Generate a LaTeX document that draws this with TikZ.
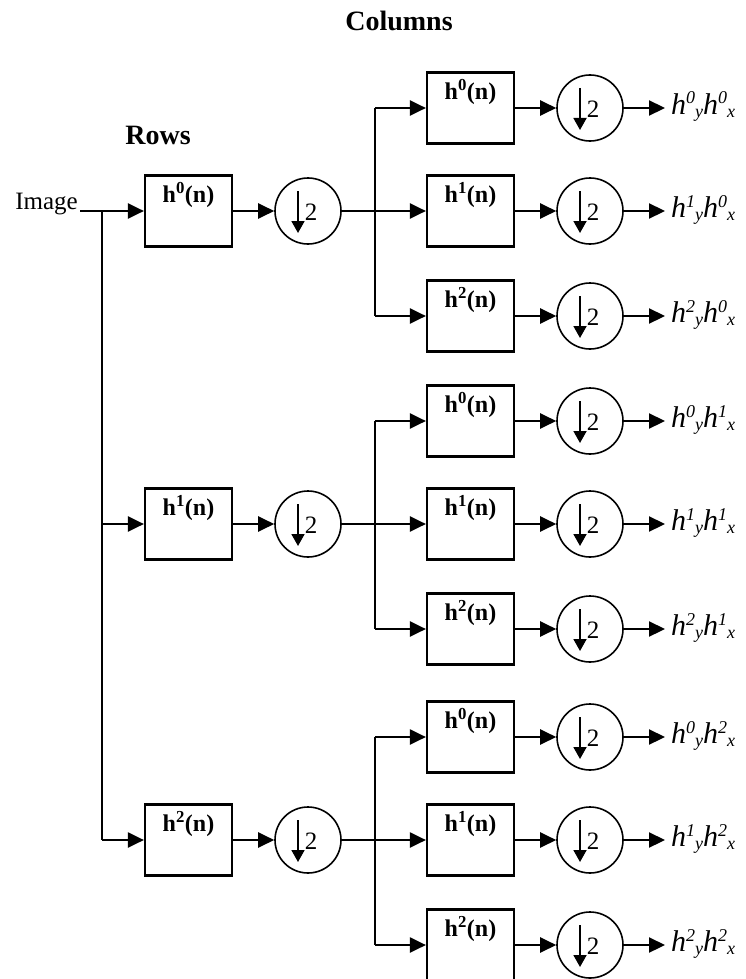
\documentclass[tikz,border=0pt]{standalone}
\usepackage{fontspec}
\setmainfont{Liberation Serif}
\usetikzlibrary{arrows.meta}
\newcommand\supdig[1]{\raisebox{10pt}{\fontsize{18}{18}\selectfont #1}}
\newcommand\subdig[1]{\raisebox{-3pt}{\fontsize{18}{18}\selectfont #1}}
\newcommand\outlab[2]{\itshape h\supdig{#1}\subdig{y}h\supdig{#2}\subdig{x}}
\newcommand\hlab[1]{\textbf{h\textsuperscript{#1}(n)}}
\tikzset{
  conn/.style={line width=2.2pt, -{Triangle[length=16pt,width=15pt]}},
  plain/.style={line width=2.2pt},
  fbox/.style={draw, line width=2.2pt, minimum width=87pt, minimum height=71pt, inner sep=0pt},
  dsc/.style={draw, circle, line width=1.6pt, minimum size=66pt, inner sep=0pt},
  darr/.style={line width=1.8pt, -{Triangle[length=12pt,width=13pt]}},
  hl/.style={font=\fontsize{24}{26}\selectfont, inner sep=0pt},
  two/.style={font=\fontsize{25}{27}\selectfont, inner sep=0pt},
  ttl/.style={font=\fontsize{28}{30}\selectfont\bfseries, inner sep=0pt},
  olab/.style={font=\fontsize{30}{32}\selectfont, inner sep=0pt, anchor=base west}
}
\begin{document}
\begin{tikzpicture}[x=1pt,y=-1pt]
\useasboundingbox (0,0) rectangle (746,979);
\node[ttl] (cols) at (399,21) {Columns};
\node[ttl] (rows) at (158,135) {Rows};
\node[font=\fontsize{25}{27}\selectfont, inner sep=0pt, anchor=base east] (img) at (78,209) {Image};
\coordinate (i0) at (80,211);
\coordinate (v0) at (102,211);
\coordinate (v1) at (102,524);
\coordinate (v2) at (102,840);
\draw[plain] (i0) -- (v0) -- (v2);
\foreach \g/\gy in {0/211,1/524,2/840} {
  \node[fbox] (r\g) at (188.5,\gy) {};
  \node[hl] (rl\g) at ([yshift=-21pt]r\g.north) {\hlab{\g}};
  \node[dsc] (rd\g) at (308,\gy) {};
  \draw[darr] ([xshift=-10pt,yshift=20pt]rd\g.center) -- ([xshift=-10pt,yshift=-22pt]rd\g.center);
  \node[two] (rt\g) at ([xshift=3pt,yshift=-1pt]rd\g.center) {2};
  \draw[conn] (v\g) -- (r\g.west);
  \draw[conn] (r\g.east) -- (rd\g.west);
  \coordinate (jt\g) at (375,{\gy-103});
  \coordinate (jm\g) at (375,\gy);
  \coordinate (jb\g) at (375,{\gy+105});
  \draw[plain] (rd\g.east) -- (jm\g);
  \draw[plain] (jt\g) -- (jb\g);
  \foreach \k/\dy in {0/-103,1/0,2/105} {
    \node[fbox] (c\g\k) at (470.5,{\gy+\dy}) {};
    \node[hl] (cl\g\k) at ([yshift=-21pt]c\g\k.north) {\hlab{\k}};
    \node[dsc] (d\g\k) at (590,{\gy+\dy}) {};
    \draw[darr] ([xshift=-10pt,yshift=20pt]d\g\k.center) -- ([xshift=-10pt,yshift=-22pt]d\g\k.center);
    \node[two] (t\g\k) at ([xshift=3pt,yshift=-1pt]d\g\k.center) {2};
    \coordinate (e\g\k) at (665,{\gy+\dy});
    \node[olab] (o\g\k) at (671,{\gy+\dy+6}) {\outlab{\k}{\g}};
  }
  \draw[conn] (jt\g) -- (c\g0.west);
  \draw[conn] (jm\g) -- (c\g1.west);
  \draw[conn] (jb\g) -- (c\g2.west);
  \foreach \k in {0,1,2} {
    \draw[conn] (c\g\k.east) -- (d\g\k.west);
    \draw[conn] (d\g\k.east) -- (e\g\k);
  }
}
\end{tikzpicture}
\end{document}
